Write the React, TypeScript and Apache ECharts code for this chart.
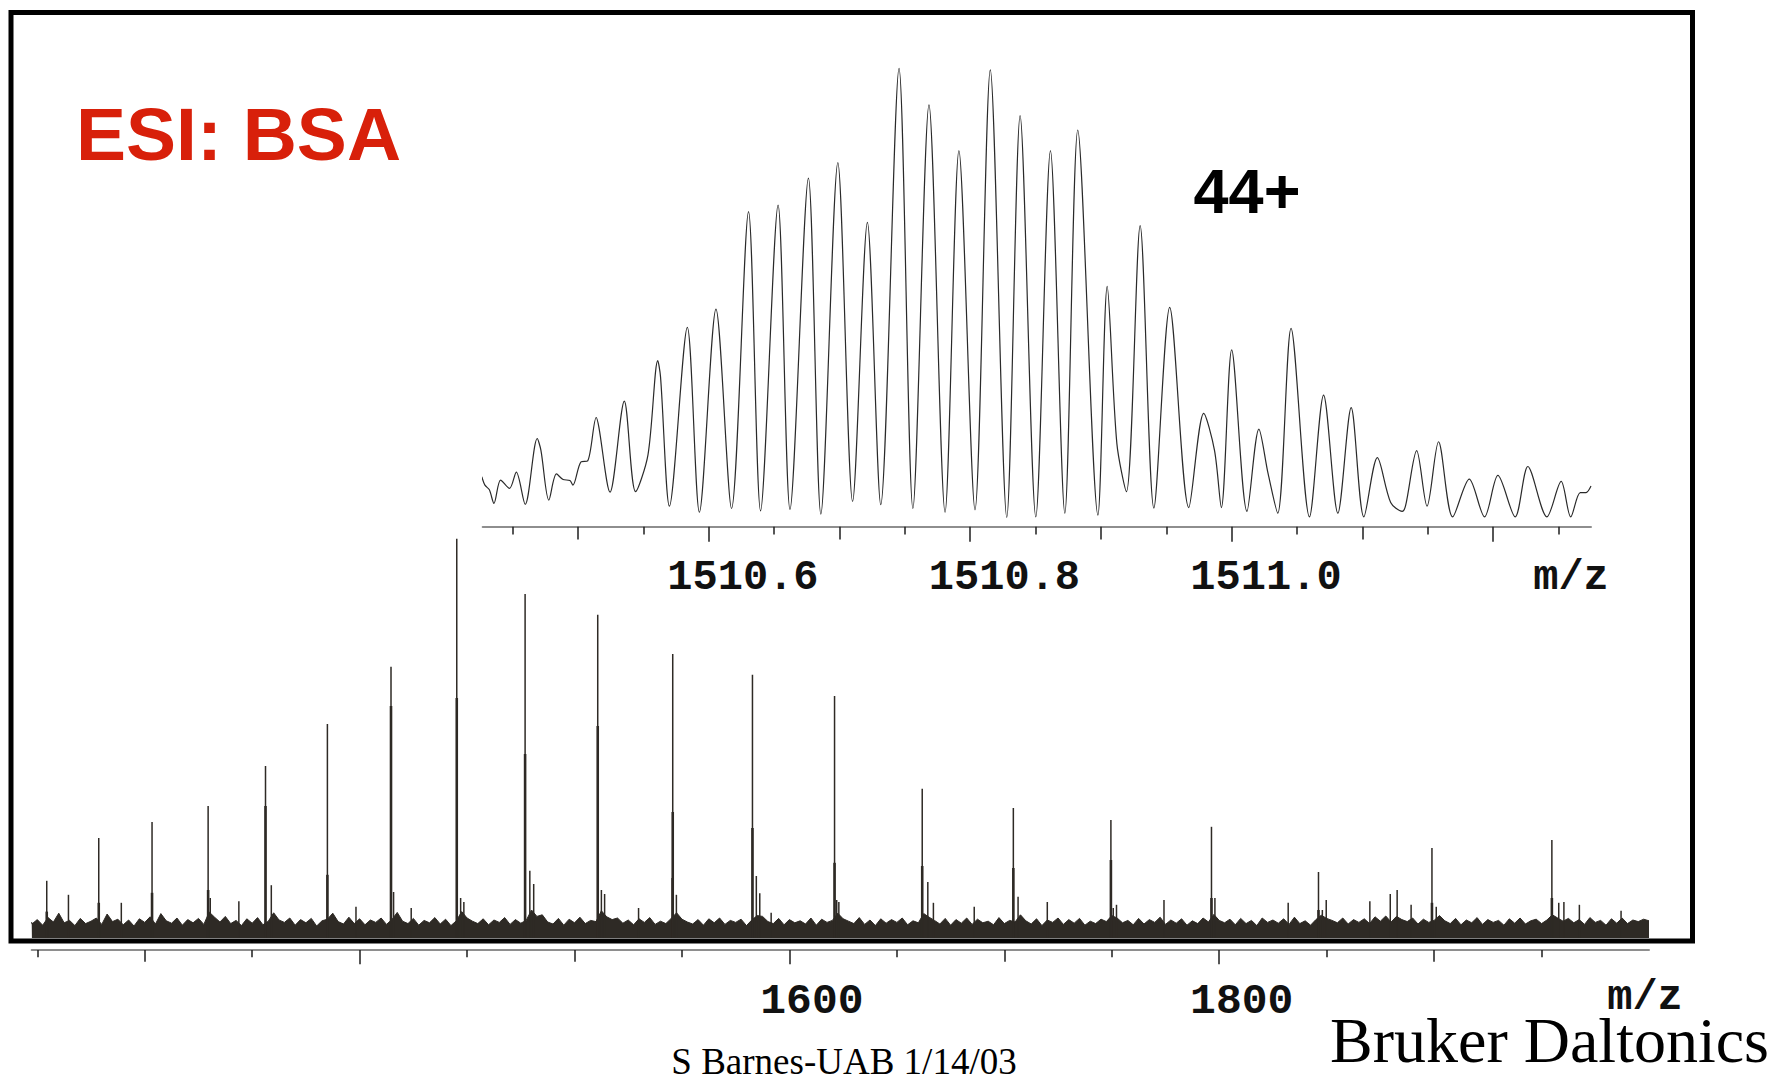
import React, { useEffect, useRef } from "react";
import * as echarts from "echarts";

// ---------- main spectrum (m/z 1247-2000) ----------
const MAIN_MIN = 1247.4;
const MAIN_MAX = 2000;
// charge-state peaks (53+ ... 34+), apex intensity in % of base peak
const mainPeakMz = [1254.4, 1278.6, 1303.4, 1329.5, 1356.2, 1385.0, 1414.6, 1445.2, 1477.0, 1510.8, 1545.7, 1582.8, 1621.0, 1661.8, 1704.2, 1749.6, 1796.4, 1846.2, 1899.0, 1954.8];
const mainPeakInt = [14.3, 25.0, 29.0, 33.0, 43.0, 53.5, 67.8, 99.8, 86.0, 80.8, 71.0, 65.8, 60.5, 37.3, 32.5, 29.5, 27.8, 16.5, 22.5, 24.5];
// thicker lower part of each peak
const mainPeakBody = [6.6, 8.8, 11.3, 12.0, 33.0, 15.8, 58.0, 60.0, 46.0, 53.0, 31.5, 27.5, 18.8, 18.0, 17.5, 19.5, 10.0, 7.0, 8.8, 10.0];
// adduct clusters and isolated noise spikes
const spikeMz = [1330.5, 1358.9, 1415.8, 1447.0, 1448.5, 1479.2, 1481.0, 1512.5, 1514.0, 1545.4, 1547.4, 1584.6, 1586.2, 1622.0, 1623.0, 1664.4, 1667.0, 1706.4, 1750.7, 1752.2, 1798.0, 1848.0, 1901.0, 1958.0,
  1264.5, 1289.1, 1343.8, 1398.3, 1424.0, 1529.8, 1591.5, 1686.0, 1720.0, 1774.3, 1832.1, 1849.8, 1870.1, 1879.6, 1882.8, 1889.3, 1960.4, 1967.6, 1987.0];
const spikeInt = [10.0, 13.2, 11.5, 10.0, 9.0, 16.8, 13.5, 12.0, 11.0, 15.0, 10.8, 15.5, 11.2, 9.5, 9.0, 14.0, 8.8, 10.3, 7.5, 8.3, 10.0, 7.0, 7.8, 8.8,
  10.8, 8.8, 9.2, 7.8, 7.5, 7.5, 6.3, 7.8, 9.0, 9.5, 8.8, 9.5, 9.2, 11.0, 12.0, 8.3, 9.0, 8.3, 6.8];
// baseline noise band (upper envelope, sampled every 2.5 m/z)
const noiseMz = [1247.4,
  1247.5, 1250, 1252.5, 1255, 1257.5, 1260, 1262.5, 1265,
  1267.5, 1270, 1272.5, 1275, 1277.5, 1280, 1282.5, 1285,
  1287.5, 1290, 1292.5, 1295, 1297.5, 1300, 1302.5, 1305,
  1307.5, 1310, 1312.5, 1315, 1317.5, 1320, 1322.5, 1325,
  1327.5, 1330, 1332.5, 1335, 1337.5, 1340, 1342.5, 1345,
  1347.5, 1350, 1352.5, 1355, 1357.5, 1360, 1362.5, 1365,
  1367.5, 1370, 1372.5, 1375, 1377.5, 1380, 1382.5, 1385,
  1387.5, 1390, 1392.5, 1395, 1397.5, 1400, 1402.5, 1405,
  1407.5, 1410, 1412.5, 1415, 1417.5, 1420, 1422.5, 1425,
  1427.5, 1430, 1432.5, 1435, 1437.5, 1440, 1442.5, 1445,
  1447.5, 1450, 1452.5, 1455, 1457.5, 1460, 1462.5, 1465,
  1467.5, 1470, 1472.5, 1475, 1477.5, 1480, 1482.5, 1485,
  1487.5, 1490, 1492.5, 1495, 1497.5, 1500, 1502.5, 1505,
  1507.5, 1510, 1512.5, 1515, 1517.5, 1520, 1522.5, 1525,
  1527.5, 1530, 1532.5, 1535, 1537.5, 1540, 1542.5, 1545,
  1547.5, 1550, 1552.5, 1555, 1557.5, 1560, 1562.5, 1565,
  1567.5, 1570, 1572.5, 1575, 1577.5, 1580, 1582.5, 1585,
  1587.5, 1590, 1592.5, 1595, 1597.5, 1600, 1602.5, 1605,
  1607.5, 1610, 1612.5, 1615, 1617.5, 1620, 1622.5, 1625,
  1627.5, 1630, 1632.5, 1635, 1637.5, 1640, 1642.5, 1645,
  1647.5, 1650, 1652.5, 1655, 1657.5, 1660, 1662.5, 1665,
  1667.5, 1670, 1672.5, 1675, 1677.5, 1680, 1682.5, 1685,
  1687.5, 1690, 1692.5, 1695, 1697.5, 1700, 1702.5, 1705,
  1707.5, 1710, 1712.5, 1715, 1717.5, 1720, 1722.5, 1725,
  1727.5, 1730, 1732.5, 1735, 1737.5, 1740, 1742.5, 1745,
  1747.5, 1750, 1752.5, 1755, 1757.5, 1760, 1762.5, 1765,
  1767.5, 1770, 1772.5, 1775, 1777.5, 1780, 1782.5, 1785,
  1787.5, 1790, 1792.5, 1795, 1797.5, 1800, 1802.5, 1805,
  1807.5, 1810, 1812.5, 1815, 1817.5, 1820, 1822.5, 1825,
  1827.5, 1830, 1832.5, 1835, 1837.5, 1840, 1842.5, 1845,
  1847.5, 1850, 1852.5, 1855, 1857.5, 1860, 1862.5, 1865,
  1867.5, 1870, 1872.5, 1875, 1877.5, 1880, 1882.5, 1885,
  1887.5, 1890, 1892.5, 1895, 1897.5, 1900, 1902.5, 1905,
  1907.5, 1910, 1912.5, 1915, 1917.5, 1920, 1922.5, 1925,
  1927.5, 1930, 1932.5, 1935, 1937.5, 1940, 1942.5, 1945,
  1947.5, 1950, 1952.5, 1955, 1957.5, 1960, 1962.5, 1965,
  1967.5, 1970, 1972.5, 1975, 1977.5, 1980, 1982.5, 1985,
  1987.5, 1990, 1992.5, 1995, 1997.5, 2000];
const noiseInt = [4.0,
  3.5, 4.6, 3.2, 5.1, 4.0, 6.2, 3.8, 4.4,
  3.1, 4.9, 3.6, 4.2, 5.0, 3.4, 6.0, 4.1,
  4.7, 3.3, 4.5, 3.0, 4.8, 3.9, 5.3, 3.5,
  6.1, 4.3, 3.7, 5.0, 3.2, 4.6, 3.8, 4.9,
  3.4, 6.5, 5.2, 4.0, 5.4, 3.6, 4.4, 3.1,
  4.8, 3.7, 5.1, 3.3, 4.2, 6.3, 4.5, 3.9,
  5.0, 3.2, 4.6, 3.8, 4.9, 3.0, 4.3, 4.7,
  6.2, 4.1, 3.5, 5.2, 3.6, 4.8, 3.3, 4.5,
  3.9, 5.0, 3.4, 4.6, 6.4, 4.2, 3.6, 4.9,
  3.2, 4.4, 3.8, 5.1, 3.5, 4.7, 3.1, 4.3,
  6.6, 5.0, 4.2, 3.6, 4.8, 3.3, 4.5, 3.9,
  5.1, 3.4, 4.6, 3.7, 4.4, 7.0, 5.4, 5.8,
  4.0, 3.5, 4.9, 3.2, 4.7, 3.8, 5.2, 3.6,
  4.4, 4.1, 6.8, 5.3, 4.6, 5.0, 3.7, 4.5,
  3.3, 4.8, 3.9, 5.1, 3.4, 4.2, 3.6, 4.9,
  6.3, 4.7, 4.0, 3.5, 4.6, 3.2, 4.8, 3.8,
  5.0, 3.4, 4.4, 3.9, 4.7, 3.1, 4.5, 5.6,
  5.4, 4.1, 3.6, 4.9, 3.3, 4.6, 3.8, 4.3,
  3.5, 5.0, 3.2, 4.7, 3.9, 4.4, 6.2, 4.8,
  4.2, 3.6, 5.1, 3.4, 4.5, 3.1, 4.8, 3.7,
  4.6, 3.9, 5.0, 3.3, 4.3, 3.8, 6.1, 5.2,
  4.4, 3.5, 4.9, 3.2, 4.6, 3.7, 5.0, 3.4,
  4.7, 3.8, 4.2, 3.3, 5.1, 3.6, 4.4, 4.0,
  5.8, 4.3, 3.5, 4.8, 3.1, 4.5, 3.9, 5.0,
  3.4, 4.6, 3.7, 4.9, 3.2, 4.2, 3.6, 4.7,
  4.1, 5.6, 5.0, 3.8, 4.4, 3.3, 4.9, 3.5,
  4.6, 3.9, 5.2, 3.4, 4.5, 3.7, 4.8, 3.2,
  4.3, 3.6, 5.0, 4.0, 5.9, 4.4, 3.8, 4.7,
  3.3, 4.9, 3.6, 4.4, 3.1, 5.0, 3.9, 4.5,
  3.7, 4.8, 3.4, 5.2, 3.6, 4.3, 3.2, 4.6,
  5.7, 4.9, 4.4, 3.8, 5.0, 3.5, 4.6, 3.9,
  4.8, 3.6, 5.3, 4.2, 5.5, 4.0, 5.4, 4.6,
  4.1, 5.0, 3.5, 4.7, 3.9, 4.4, 5.6, 4.3,
  3.6, 4.9, 3.3, 4.5, 3.8, 5.1, 3.4, 4.6,
  3.9, 4.4, 3.2, 4.8, 3.7, 5.0, 3.5, 4.3,
  4.7, 3.6, 4.5, 5.8, 5.0, 4.2, 4.9, 3.8,
  4.6, 3.4, 5.1, 3.9, 4.4, 3.2, 4.8, 3.7,
  5.0, 3.6, 4.5, 4.1, 4.7, 4.3];
const mainShortTicks = [1250, 1350, 1450, 1550, 1650, 1750, 1850, 1950];
const mainMidTicks = [1300, 1500, 1700, 1900];
const mainMajorTicks = [1400, 1600, 1800];
const mainLabels = [1600, 1800];

// ---------- inset: 44+ isotope cluster ----------
const INSET_MIN = 1510.4272;
const INSET_MAX = 1511.2748;
const insetMz = [1510.4265, 1510.4289, 1510.4323, 1510.4358, 1510.4409, 1510.4477, 1510.4529, 1510.4597, 1510.4689, 1510.4717, 1510.4778, 1510.4836, 1510.4887, 1510.4939, 1510.4962, 1510.5024, 1510.5075, 1510.5140, 1510.5160, 1510.5246, 1510.5355, 1510.5441, 1510.5536, 1510.5611, 1510.5632, 1510.5700, 1510.5837, 1510.5929, 1510.6056, 1510.6175, 1510.6305, 1510.6397, 1510.6531, 1510.6622, 1510.6763, 1510.6858, 1510.6988, 1510.7101, 1510.7214, 1510.7316, 1510.7456, 1510.7562, 1510.7685, 1510.7808, 1510.7914, 1510.8037, 1510.8154, 1510.8280, 1510.8382, 1510.8502, 1510.8614, 1510.8724, 1510.8823, 1510.8977, 1510.9048, 1510.9122, 1510.9195, 1510.9300, 1510.9405, 1510.9526, 1510.9672, 1510.9786, 1510.9869, 1510.9921, 1511.0000, 1511.0117, 1511.0208, 1511.0279, 1511.0352, 1511.0454, 1511.0595, 1511.0703, 1511.0812, 1511.0914, 1511.1011, 1511.1114, 1511.1216, 1511.1304, 1511.1330, 1511.1415, 1511.1494, 1511.1582, 1511.1690, 1511.1817, 1511.1934, 1511.2036, 1511.2168, 1511.2265, 1511.2411, 1511.2520, 1511.2593, 1511.2666, 1511.2710, 1511.2748];
const insetInt = [10.7, 8.9, 7.9, 5.0, 10.0, 8.2, 11.7, 4.8, 18.9, 16.4, 5.7, 11.3, 10.1, 9.9, 8.9, 13.9, 14.1, 23.4, 21.4, 7.4, 26.9, 7.5, 15.4, 35.6, 32.1, 4.4, 42.7, 3.1, 46.6, 3.9, 67.5, 3.4, 68.9, 3.7, 74.7, 2.7, 78.0, 5.4, 65.2, 4.7, 98.2, 3.9, 90.4, 3.1, 80.6, 3.6, 97.9, 2.0, 88.1, 2.1, 80.6, 2.9, 85.0, 2.5, 51.5, 17.8, 7.5, 64.5, 4.0, 47.0, 4.1, 24.3, 16.3, 4.1, 37.9, 3.3, 20.9, 11.3, 2.9, 42.5, 2.1, 28.2, 2.9, 25.5, 2.1, 14.8, 5.2, 3.3, 4.5, 16.3, 4.4, 18.2, 2.1, 10.2, 2.1, 11.0, 2.1, 12.9, 2.1, 9.7, 2.1, 7.3, 7.3, 8.7];
const insetShortTicks = [1510.45, 1510.55, 1510.65, 1510.75, 1510.85, 1510.95, 1511.05, 1511.15, 1511.25];
const insetMidTicks = [1510.5, 1510.7, 1510.9, 1511.1];
const insetMajorTicks = [1510.6, 1510.8, 1511.0, 1511.2];
const insetLabels = [1510.6, 1510.8, 1511.0];

const INK = "#2e2a25";
const AXIS_GREY = "#8e8e8e";
const TICK = "#1e1e1e";
const MONO = '"Liberation Mono", "Courier New", monospace';

function zip(a: number[], b: number[]) {
  return a.map((v, i) => [v, b[i]]);
}

function spikeSeries(name: string, mz: number[], h: number[], width: number, z: number) {
  return {
    name,
    type: "custom",
    xAxisIndex: 0,
    yAxisIndex: 0,
    z,
    clip: true,
    encode: { x: 0, y: 1 },
    data: zip(mz, h),
    renderItem: (_p: any, api: any) => {
      const x = api.value(0);
      const p0 = api.coord([x, 0]);
      const p1 = api.coord([x, api.value(1)]);
      return {
        type: "line",
        shape: { x1: p0[0], y1: p0[1], x2: p1[0], y2: p1[1] },
        style: { stroke: INK, lineWidth: width },
      };
    },
  };
}

function tickAxis(grid: number, min: number, max: number, offset: number, values: number[], length: number, showLine: boolean, extra: any = {}) {
  return {
    type: "value",
    gridIndex: grid,
    min,
    max,
    position: "bottom",
    offset,
    splitLine: { show: false },
    axisLine: { show: showLine, onZero: false, lineStyle: { color: AXIS_GREY, width: 2 } },
    axisLabel: { show: false },
    axisTick: { show: true, length, customValues: values, lineStyle: { color: TICK, width: 1.5 } },
    ...extra,
  };
}

function buildOption() {
  return {
    animation: false,
    backgroundColor: "#ffffff",
    grid: [
      { left: 31.7, top: 538, width: 1617.3, height: 400, outerBoundsMode: "none" },
      { left: 482.7, top: 60, width: 1108.3, height: 466.7, outerBoundsMode: "none" },
    ],
    xAxis: [
      tickAxis(0, MAIN_MIN, MAIN_MAX, 12, mainShortTicks, 7.3, true),
      tickAxis(0, MAIN_MIN, MAIN_MAX, 12, mainMidTicks, 11.7, false),
      tickAxis(0, MAIN_MIN, MAIN_MAX, 12, mainMajorTicks, 14.3, false, {
        axisLabel: {
          show: true,
          customValues: mainLabels,
          margin: 29.5,
          padding: [0, 0, 0, 45],
          formatter: (v: number) => String(Math.round(v)),
          fontFamily: MONO,
          fontWeight: "bold",
          fontSize: 43,
          color: "#111",
        },
      }),
      tickAxis(1, INSET_MIN, INSET_MAX, 0, insetShortTicks, 7.7, true),
      tickAxis(1, INSET_MIN, INSET_MAX, 0, insetMidTicks, 12.7, false),
      tickAxis(1, INSET_MIN, INSET_MAX, 0, insetMajorTicks, 15, false, {
        axisLabel: {
          show: true,
          customValues: insetLabels,
          margin: 30.5,
          padding: [0, 0, 0, 68.6],
          formatter: (v: number) => v.toFixed(1),
          fontFamily: MONO,
          fontWeight: "bold",
          fontSize: 42,
          color: "#111",
        },
      }),
    ],
    yAxis: [
      { type: "value", gridIndex: 0, min: 0, max: 100, show: false, splitLine: { show: false } },
      { type: "value", gridIndex: 1, min: 0, max: 100, show: false, splitLine: { show: false } },
    ],
    series: [
      {
        name: "baseline noise",
        type: "line",
        xAxisIndex: 0,
        yAxisIndex: 0,
        data: zip(noiseMz, noiseInt),
        showSymbol: false,
        lineStyle: { color: INK, width: 1 },
        areaStyle: { color: INK, opacity: 1 },
        z: 2,
      },
      spikeSeries("adducts / noise spikes", spikeMz, spikeInt, 1.5, 3),
      spikeSeries("peak body", mainPeakMz, mainPeakBody, 2.6, 4),
      spikeSeries("charge states", mainPeakMz, mainPeakInt, 1.5, 5),
      {
        name: "44+ isotopes",
        type: "line",
        xAxisIndex: 3,
        yAxisIndex: 1,
        data: zip(insetMz, insetInt),
        showSymbol: false,
        smooth: 0.3,
        lineStyle: { color: "#2a2a2a", width: 1.2 },
        z: 5,
      },
    ],
    graphic: [
      {
        type: "rect",
        z: 100,
        shape: { x: 11, y: 12.5, width: 1681.5, height: 928.5 },
        style: { fill: "none", stroke: "#000", lineWidth: 5 },
      },
      {
        type: "text",
        z: 100,
        x: 76,
        y: 134,
        style: { text: "ESI: BSA", font: 'bold 75px "Liberation Sans", Arial, sans-serif', fill: "#d8200a", textAlign: "left", textVerticalAlign: "middle", align: "left", verticalAlign: "middle" },
      },
      {
        type: "text",
        z: 100,
        x: 1247,
        y: 191,
        style: { text: "44+", font: 'bold 63px "Liberation Sans", Arial, sans-serif', fill: "#000", textAlign: "center", textVerticalAlign: "middle", align: "center", verticalAlign: "middle" },
      },
      {
        type: "text",
        z: 100,
        x: 1571,
        y: 578,
        style: { text: "m/z", font: "bold 42px " + MONO, fill: "#111", textAlign: "center", textVerticalAlign: "middle", align: "center", verticalAlign: "middle" },
      },
      {
        type: "text",
        z: 100,
        x: 1645,
        y: 998,
        style: { text: "m/z", font: "bold 42px " + MONO, fill: "#111", textAlign: "center", textVerticalAlign: "middle", align: "center", verticalAlign: "middle" },
      },
      {
        type: "text",
        z: 100,
        x: 844,
        y: 1061,
        style: { text: "S Barnes-UAB 1/14/03", font: '37px "Liberation Serif", "Times New Roman", serif', fill: "#000", textAlign: "center", textVerticalAlign: "middle", align: "center", verticalAlign: "middle" },
      },
      {
        type: "text",
        z: 100,
        x: 1330,
        y: 1040,
        style: { text: "Bruker Daltonics", font: '64px "Liberation Serif", "Times New Roman", serif', fill: "#000", textAlign: "left", textVerticalAlign: "middle", align: "left", verticalAlign: "middle" },
      },
    ],
  };
}

export default function App() {
  const ref = useRef<HTMLDivElement>(null);
  useEffect(() => {
    document.body.style.margin = "0";
    const chart = echarts.init(ref.current as HTMLDivElement, null, { renderer: "svg" });
    chart.setOption(buildOption() as any);
    return () => chart.dispose();
  }, []);
  return (
    <div
      ref={ref}
      style={{ position: "absolute", left: 0, top: 0, width: 1777, height: 1079, background: "#fff" }}
    />
  );
}
